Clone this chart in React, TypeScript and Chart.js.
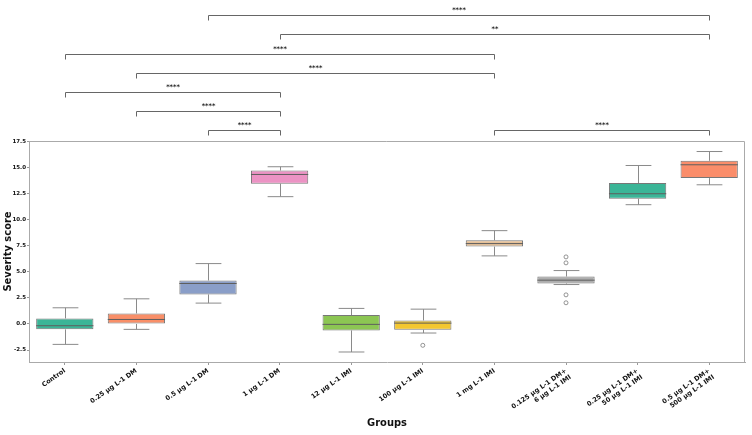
import React, { useEffect, useRef } from "react";
import { Chart, registerables } from "chart.js";

Chart.register(...registerables);

const categories: (string | string[])[] = [
  "Control",
  "0.25 µg L-1 DM",
  "0.5 µg L-1 DM",
  "1 µg L-1 DM",
  "12 µg L-1 IMI",
  "100 µg L-1 IMI",
  "1 mg L-1 IMI",
  ["0.125 µg L-1 DM+", "6 µg L-1 IMI"],
  ["0.25 µg L-1 DM+", "50 µg L-1 IMI"],
  ["0.5 µg L-1 DM+", "500 µg L-1 IMI"],
];
const categoryKeys = categories.map((c) => (Array.isArray(c) ? c.join(" ") : c));

const whiskerLow = [-1.96, -0.52, 2.0, 12.21, -2.69, -0.87, 6.53, 3.78, 11.44, 13.35];
const q1 = [-0.52, 0.0, 2.83, 13.45, -0.62, -0.55, 7.42, 3.88, 12.01, 13.99];
const median = [-0.17, 0.43, 3.88, 14.34, -0.04, 0.08, 7.71, 4.2, 12.49, 15.27];
const q3 = [0.53, 1.01, 4.17, 14.72, 0.85, 0.34, 8.03, 4.55, 13.51, 15.65];
const whiskerHigh = [1.55, 2.41, 5.79, 15.08, 1.49, 1.42, 8.95, 5.12, 15.2, 16.54];

const outlierGroup = [5, 7, 7, 7, 7];
const outlierValue = [-2.05, 6.43, 5.86, 2.79, 2.03];

const boxColors = [
  "#3bb597",
  "#f98f68",
  "#8a9ec8",
  "#ec93c4",
  "#8cc653",
  "#f4c730",
  "#e6c198",
  "#adadad",
  "#3bb597",
  "#fa8d6a",
];

// significance brackets: from group, to group, height (score units), label
const bracketFrom = [2, 3, 0, 1, 0, 1, 2, 6];
const bracketTo = [9, 9, 6, 6, 3, 3, 3, 9];
const bracketLevel = [29.62, 27.77, 25.92, 24.07, 22.26, 20.44, 18.62, 18.62];
const bracketText = ["****", "**", "****", "****", "****", "****", "****", "****"];

const yTicks = [-2.5, 0, 2.5, 5, 7.5, 10, 12.5, 15, 17.5];

const TITLE_FONT = "'DejaVu Sans Condensed', 'Liberation Sans Narrow', 'DejaVu Sans', sans-serif";

const boxPlugin = {
  id: "boxExtras",
  beforeDatasetsDraw(chart: any) {
    const { ctx } = chart;
    const xs = chart.scales.x;
    const ys = chart.scales.y;
    const meta = chart.getDatasetMeta(0);
    ctx.save();
    ctx.strokeStyle = "#8a8a8a";
    ctx.lineWidth = 1;
    categories.forEach((_, i) => {
      const bar = meta.data[i];
      const half = bar ? bar.width / 2 : 20;
      const cap = half * 0.45;
      const x = Math.round(xs.getPixelForValue(i)) + 0.5;
      const yLo = ys.getPixelForValue(whiskerLow[i]);
      const yQ1 = ys.getPixelForValue(q1[i]);
      const yQ3 = ys.getPixelForValue(q3[i]);
      const yHi = ys.getPixelForValue(whiskerHigh[i]);
      ctx.beginPath();
      ctx.moveTo(x, yQ3);
      ctx.lineTo(x, yHi);
      ctx.moveTo(x - cap, yHi);
      ctx.lineTo(x + cap, yHi);
      ctx.moveTo(x, yQ1);
      ctx.lineTo(x, yLo);
      ctx.moveTo(x - cap, yLo);
      ctx.lineTo(x + cap, yLo);
      ctx.stroke();
    });
    ctx.restore();
  },
  afterDatasetsDraw(chart: any) {
    const { ctx } = chart;
    const xs = chart.scales.x;
    const ys = chart.scales.y;
    const meta = chart.getDatasetMeta(0);
    ctx.save();
    ctx.strokeStyle = "#5e5e5e";
    ctx.lineWidth = 1;
    categories.forEach((_, i) => {
      const bar = meta.data[i];
      const half = bar ? bar.width / 2 : 20;
      const x = xs.getPixelForValue(i);
      const y = ys.getPixelForValue(median[i]);
      ctx.beginPath();
      ctx.moveTo(x - half, y);
      ctx.lineTo(x + half, y);
      ctx.stroke();
    });
    // frame around plot area
    const a = chart.chartArea;
    ctx.strokeStyle = "#aaaaaa";
    ctx.beginPath();
    ctx.moveTo(a.left, a.top + 0.5);
    ctx.lineTo(a.right - 0.5, a.top + 0.5);
    ctx.lineTo(a.right - 0.5, a.bottom);
    ctx.stroke();
    ctx.restore();
  },
  afterDraw(chart: any) {
    const { ctx } = chart;
    const xs = chart.scales.x;
    const ys = chart.scales.y;
    ctx.save();
    ctx.strokeStyle = "#666666";
    ctx.fillStyle = "#222222";
    ctx.lineWidth = 1;
    ctx.font = "bold 6.5px 'DejaVu Sans', sans-serif";
    ctx.textAlign = "center";
    ctx.textBaseline = "bottom";
    bracketFrom.forEach((f, k) => {
      const x1 = Math.round(xs.getPixelForValue(f)) + 0.5;
      const x2 = Math.round(xs.getPixelForValue(bracketTo[k])) + 0.5;
      const y = Math.round(ys.getPixelForValue(bracketLevel[k])) + 0.5;
      ctx.beginPath();
      ctx.moveTo(x1, y + 5);
      ctx.lineTo(x1, y);
      ctx.lineTo(x2, y);
      ctx.lineTo(x2, y + 5);
      ctx.stroke();
      ctx.fillText(bracketText[k], (x1 + x2) / 2, y - 2);
    });
    ctx.restore();
  },
};

export default function App() {
  const ref = useRef<HTMLCanvasElement | null>(null);
  useEffect(() => {
    if (!ref.current) return;
    const chart = new Chart(ref.current, {
      type: "bar",
      data: {
        labels: categoryKeys,
        datasets: [
          {
            type: "bar",
            data: categories.map((_, i) => [q1[i], q3[i]]) as any,
            backgroundColor: boxColors,
            borderColor: "#777777",
            borderWidth: 1,
            borderSkipped: false,
            barPercentage: 0.8,
            categoryPercentage: 1,
          } as any,
          {
            type: "scatter",
            data: outlierGroup.map((g, k) => ({ x: categoryKeys[g], y: outlierValue[k] })) as any,
            pointStyle: "circle",
            pointRadius: 2,
            pointBackgroundColor: "rgba(255,255,255,0)",
            pointBorderColor: "#7a7a7a",
            pointBorderWidth: 0.8,
            showLine: false,
          } as any,
        ],
      },
      options: {
        animation: false,
        responsive: true,
        maintainAspectRatio: false,
        layout: { padding: { top: 141, right: 7, bottom: 0, left: 0 } },
        plugins: {
          legend: { display: false },
          tooltip: { enabled: false },
        },
        scales: {
          x: {
            type: "category",
            offset: true,
            grid: {
              display: true,
              drawOnChartArea: false,
              drawTicks: true,
              tickLength: 3,
              color: "#999999",
              offset: false,
            },
            border: { display: true, color: "#aaaaaa" },
            ticks: {
              autoSkip: false,
              minRotation: 35,
              maxRotation: 35,
              padding: 2,
              color: "#111111",
              font: { family: "'DejaVu Sans', sans-serif", size: 6.5, weight: "bold" },
              callback: (_v: any, i: number) => categories[i],
            },
            title: {
              display: true,
              text: "Groups",
              color: "#111111",
              font: { family: TITLE_FONT, size: 11, weight: "bold" },
              padding: { top: 0, bottom: 5 },
            },
            afterFit(scale: any) {
              scale.height = 73;
            },
          },
          y: {
            type: "linear",
            min: -3.65,
            max: 17.55,
            grid: {
              display: true,
              drawOnChartArea: false,
              drawTicks: true,
              tickLength: 2,
              color: "#999999",
            },
            border: { display: true, color: "#aaaaaa" },
            afterBuildTicks(scale: any) {
              scale.ticks = yTicks.map((v) => ({ value: v }));
            },
            ticks: {
              padding: 1,
              color: "#111111",
              font: { family: "'DejaVu Sans', sans-serif", size: 5.5, weight: "bold" },
              callback: (v: any) => Number(v).toFixed(1),
            },
            title: {
              display: true,
              text: "Severity score",
              color: "#111111",
              font: { family: TITLE_FONT, size: 11, weight: "bold" },
              padding: { top: 2, bottom: 0 },
            },
            afterFit(scale: any) {
              scale.width = 29;
            },
          },
        },
      },
      plugins: [boxPlugin],
    });
    return () => chart.destroy();
  }, []);
  return (
    <div style={{ position: "absolute", left: 0, top: 0, width: 752, height: 435, background: "#fff" }}>
      <canvas ref={ref} />
    </div>
  );
}
